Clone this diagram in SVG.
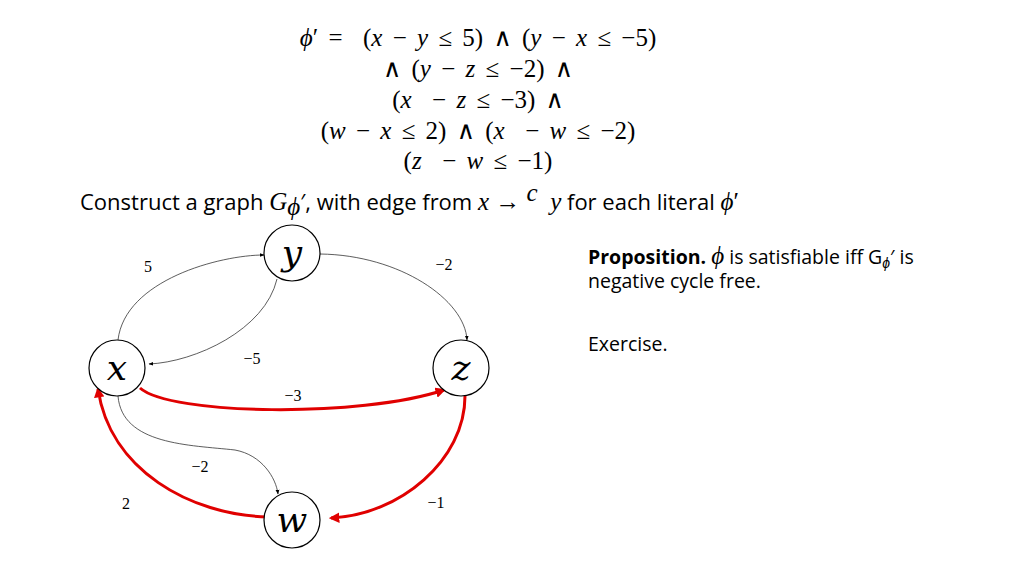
<svg xmlns="http://www.w3.org/2000/svg" width="1024" height="576" viewBox="0 0 1024 576">
<defs>
<marker id="ab" viewBox="0 0 10 10" refX="9" refY="5" markerWidth="6" markerHeight="6" orient="auto"><path d="M0,1 L10,5 L0,9 z" fill="#000"/></marker>
<marker id="ar" viewBox="0 0 10 10" refX="8" refY="5" markerWidth="3.5" markerHeight="3.5" orient="auto"><path d="M0,0 L10,5 L0,10 z" fill="#e00000"/></marker>
</defs>
<style>
.m{font-family:"Liberation Serif","DejaVu Serif",serif;font-size:25px;fill:#000}
.v{font-style:italic}
.t{font-family:"Open Sans","Liberation Sans",sans-serif;font-size:22px;fill:#000}
.p{font-family:"Open Sans","Liberation Sans",sans-serif;font-size:19.5px;fill:#000}
.lb{font-family:"Liberation Serif",serif;font-size:16px;fill:#000;text-anchor:middle}
.n{fill:#fff;stroke:#000;stroke-width:1.2}
.nl{font-family:"DejaVu Serif",serif;font-style:italic;font-size:36px;text-anchor:middle;fill:#000}
.e{fill:none;stroke:#333;stroke-width:0.8;marker-end:url(#ab)}
.r{fill:none;stroke:#e00000;stroke-width:3;marker-end:url(#ar)}
</style>
<rect width="1024" height="576" fill="#fff"/>
<g text-anchor="middle" class="m" word-spacing="4">
<text x="478" y="46" xml:space="preserve"><tspan class="v">ϕ</tspan>′ =  (<tspan class="v">x</tspan> − <tspan class="v">y</tspan> ≤ 5) ∧ (<tspan class="v">y</tspan> − <tspan class="v">x</tspan> ≤ −5)</text>
<text x="478" y="77" xml:space="preserve">∧ (<tspan class="v">y</tspan> − <tspan class="v">z</tspan> ≤ −2) ∧</text>
<text x="478" y="108" xml:space="preserve">(<tspan class="v">x</tspan>  − <tspan class="v">z</tspan> ≤ −3) ∧</text>
<text x="478" y="139" xml:space="preserve">(<tspan class="v">w</tspan> − <tspan class="v">x</tspan> ≤ 2) ∧ (<tspan class="v">x</tspan>  − <tspan class="v">w</tspan> ≤ −2)</text>
<text x="478" y="169" xml:space="preserve">(<tspan class="v">z</tspan>  − <tspan class="v">w</tspan> ≤ −1)</text>
</g>
<text class="t" x="80" y="210" font-size="25" xml:space="preserve">Construct a graph <tspan class="m v" font-size="27">G</tspan><tspan class="m v" font-size="17" dy="5">ϕ</tspan><tspan dy="-5">′, with edge from </tspan><tspan class="m v" font-size="27">x</tspan><tspan class="m" font-size="27"> → </tspan><tspan class="m v" font-size="17" dy="-9">c</tspan><tspan class="m v" font-size="27" dy="9">  y</tspan> for each literal <tspan class="m v" font-size="27">ϕ</tspan><tspan class="m" font-size="27">′</tspan></text>
<text class="p" x="588" y="264"><tspan font-weight="bold">Proposition.</tspan> <tspan class="m v" font-size="22">ϕ</tspan> is satisfiable iff G<tspan font-size="14" dy="4" class="v">ϕ</tspan><tspan dy="-4">′ is</tspan></text>
<text class="p" x="588" y="288">negative cycle free.</text>
<text class="p" x="588" y="351">Exercise.</text>
<g id="connectors">
<path class="e" d="M118,340 C125,280 220,255 264,255"/>
<path class="e" d="M277,279 C265,330 195,362 149,364"/>
<path class="e" d="M320,254 C400,255 465,300 467,340"/>
<path class="e" d="M118,396 C122,445 190,445 235,450 C262,455 276,478 278,494"/>
<path class="r" d="M140,388 C170,415 360,418 444,390"/>
<path class="r" d="M465,396 C465,460 400,515 331,518"/>
<path class="r" d="M268,517 C190,515 110,470 98,389"/>
</g>
<g>
<text class="lb" x="148" y="272">5</text>
<text class="lb" x="444" y="270">−2</text>
<text class="lb" x="252" y="364">−5</text>
<text class="lb" x="293" y="401">−3</text>
<text class="lb" x="200" y="472">−2</text>
<text class="lb" x="126" y="509">2</text>
<text class="lb" x="436" y="508">−1</text>
</g>
<g id="y"><circle class="n" cx="292" cy="253" r="28"/><text class="nl" x="292" y="265">y</text></g>
<g id="x"><circle class="n" cx="117" cy="368" r="28"/><text class="nl" x="117" y="380">x</text></g>
<g id="z"><circle class="n" cx="461" cy="368" r="28"/><text class="nl" x="461" y="380">z</text></g>
<g id="w"><circle class="n" cx="292" cy="520" r="28"/><text class="nl" x="292" y="532">w</text></g>
</svg>
